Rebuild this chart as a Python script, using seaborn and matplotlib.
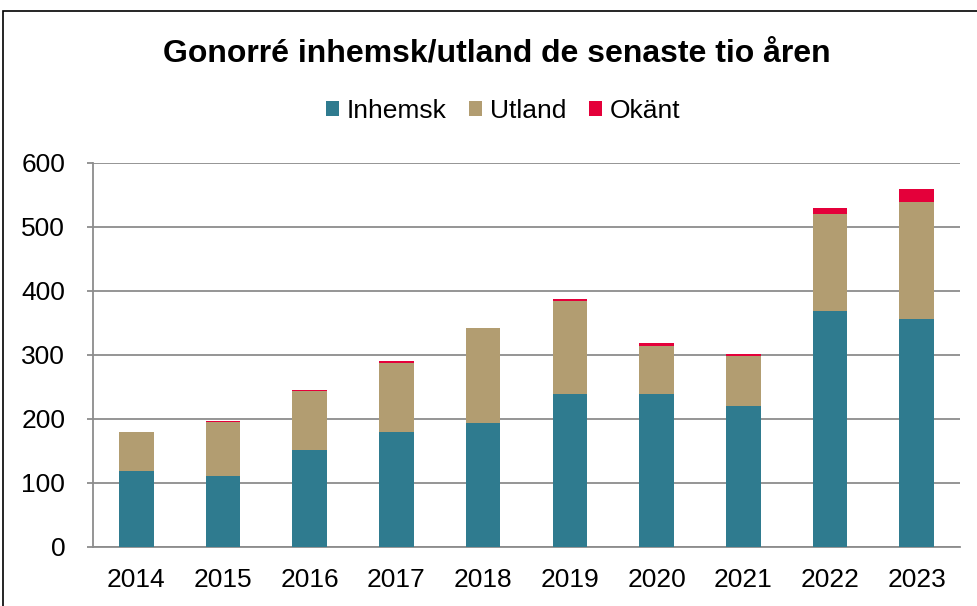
import matplotlib
matplotlib.use("Agg")
import matplotlib.pyplot as plt
from matplotlib.patches import Rectangle, Patch
import seaborn as sns
import pandas as pd

years = ["2014", "2015", "2016", "2017", "2018", "2019", "2020", "2021", "2022", "2023"]
inhemsk = [119, 111, 152, 180, 194, 239, 239, 221, 368, 357]
utland = [61, 84, 91, 108, 148, 146, 75, 78, 152, 182]
okant = [0, 2, 3, 2, 0, 2, 4, 3, 10, 20]

colors = {"Inhemsk": "#2F7B8F", "Utland": "#B29D71", "Okänt": "#E4003A"}

df = pd.DataFrame({"year": years, "Inhemsk": inhemsk, "Utland": utland, "Okänt": okant})
df["lvl1"] = df["Inhemsk"]
df["lvl2"] = df["Inhemsk"] + df["Utland"]
df["lvl3"] = df["lvl2"] + df["Okänt"]

sns.set_style("white")
plt.rcParams["font.family"] = ["Liberation Sans", "DejaVu Sans"]
plt.rcParams["text.color"] = "black"

fig = plt.figure(figsize=(9.77, 6.06), dpi=100)
ax = fig.add_axes([93 / 977, 59 / 606, (960 - 93) / 977, (547 - 163) / 606])

# stacked bars drawn back to front as cumulative totals
for col, key in [("lvl3", "Okänt"), ("lvl2", "Utland"), ("lvl1", "Inhemsk")]:
    sns.barplot(data=df, x="year", y=col, color=colors[key], width=0.4, saturation=1,
                linewidth=0, ax=ax, zorder=3)

ax.set_xlim(-0.5, 9.5)
ax.set_ylim(0, 600)
ax.set_yticks(range(0, 601, 100))
ax.set_xlabel("")
ax.set_ylabel("")
ax.yaxis.grid(True, color="#8c8c8c", linewidth=1.3, zorder=0)
ax.set_axisbelow(True)

for side in ["top", "right"]:
    ax.spines[side].set_visible(False)
for side in ["left", "bottom"]:
    ax.spines[side].set_color("#8c8c8c")
    ax.spines[side].set_linewidth(1.3)

ax.set_xticks([i + 0.5 for i in range(-1, 10)], minor=True)
ax.tick_params(axis="x", which="major", length=0, pad=15, labelsize=19, labelcolor="black")
ax.tick_params(axis="x", which="minor", length=6, width=1.3, color="#8c8c8c", direction="out")
ax.tick_params(axis="y", which="major", length=4, width=1.3, color="#8c8c8c", pad=16, labelsize=19,
               labelcolor="black", left=True)

fig.text(0.509, 0.912, "Gonorré inhemsk/utland de senaste tio åren", ha="center", va="center",
         fontsize=23, fontweight="bold", color="black")

handles = [Patch(facecolor=colors[k], edgecolor="none", label=k) for k in ["Inhemsk", "Utland", "Okänt"]]
leg = fig.legend(handles=handles, loc="center", bbox_to_anchor=(0.515, 0.817), ncol=3, frameon=False,
                 fontsize=19, handlelength=0.5, handleheight=0.5, handletextpad=0.3, columnspacing=0.85)
for t in leg.get_texts():
    t.set_color("black")

fig.patches.append(Rectangle((3 / 977, -0.1), 1.1, 1.1 - 11 / 606, transform=fig.transFigure,
                             fill=False, edgecolor="black", linewidth=1.2, clip_on=False))

fig.savefig("out.png", dpi=100)
